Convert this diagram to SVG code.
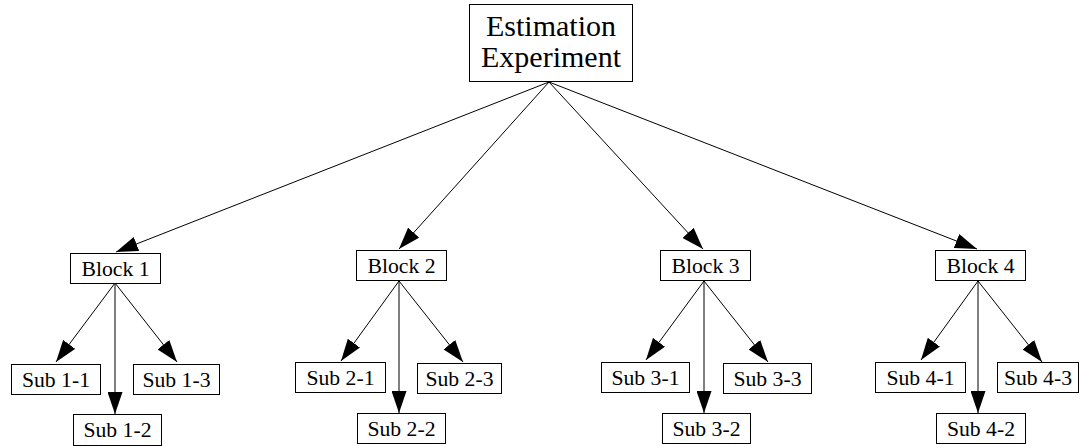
<svg xmlns="http://www.w3.org/2000/svg" width="1080" height="446" viewBox="0 0 1080 446">
  <style>
    .box { fill: #ffffff; stroke: #000000; stroke-width: 1; }
    text { font-family: "Liberation Serif", "Times New Roman", serif; font-size: 21.7px; fill: #000000; text-anchor: middle; }
    .root { font-size: 30px; }
    .edge { stroke: #000000; stroke-width: 1; fill: none; marker-end: url(#arrow); }
  </style>
  <defs>
    <marker id="arrow" markerUnits="userSpaceOnUse" markerWidth="22" markerHeight="15" refX="22" refY="7.5" orient="auto">
      <path d="M0,0 L22,7.5 L0,15 Z" fill="#000000"/>
    </marker>
  </defs>
  <rect width="1080" height="446" fill="#ffffff"/>

  <g id="connectors">
    <!-- root to blocks -->
    <line class="edge" x1="549" y1="82" x2="116" y2="252"/>
    <line class="edge" x1="549" y1="82" x2="399" y2="249"/>
    <line class="edge" x1="549" y1="82" x2="703" y2="249"/>
    <line class="edge" x1="549" y1="82" x2="977" y2="249"/>
    <!-- block 1 -->
    <line class="edge" x1="115" y1="283" x2="56" y2="362"/>
    <line class="edge" x1="115" y1="283" x2="115" y2="414"/>
    <line class="edge" x1="115" y1="283" x2="177" y2="362"/>
    <!-- block 2 -->
    <line class="edge" x1="399" y1="281" x2="341" y2="361"/>
    <line class="edge" x1="399" y1="281" x2="399" y2="413"/>
    <line class="edge" x1="399" y1="281" x2="463" y2="362"/>
    <!-- block 3 -->
    <line class="edge" x1="704" y1="281" x2="646" y2="360"/>
    <line class="edge" x1="704" y1="281" x2="704" y2="413"/>
    <line class="edge" x1="704" y1="281" x2="768" y2="362"/>
    <!-- block 4 -->
    <line class="edge" x1="978" y1="281" x2="921" y2="360"/>
    <line class="edge" x1="978" y1="281" x2="978" y2="413"/>
    <line class="edge" x1="978" y1="281" x2="1042" y2="362"/>
  </g>

  <g id="root">
    <rect class="box" x="469.5" y="4.5" width="163" height="77"/>
    <text class="root" x="551" y="36">Estimation</text>
    <text class="root" x="551" y="67">Experiment</text>
  </g>

  <g id="block1"><rect class="box" x="70.5" y="253.5" width="90" height="30"/><text x="115.5" y="276">Block 1</text></g>
  <g id="block2"><rect class="box" x="356.5" y="250.5" width="90" height="30"/><text x="401.5" y="273">Block 2</text></g>
  <g id="block3"><rect class="box" x="660.5" y="250.5" width="90" height="30"/><text x="705.5" y="273">Block 3</text></g>
  <g id="block4"><rect class="box" x="935.5" y="250.5" width="90" height="30"/><text x="980.5" y="273">Block 4</text></g>

  <g id="sub1-1"><rect class="box" x="11.5" y="364.5" width="89" height="30"/><text x="56" y="387">Sub 1-1</text></g>
  <g id="sub1-2"><rect class="box" x="73.5" y="414.5" width="88" height="31"/><text x="117.5" y="437">Sub 1-2</text></g>
  <g id="sub1-3"><rect class="box" x="133.5" y="364.5" width="86" height="30"/><text x="176.5" y="387">Sub 1-3</text></g>

  <g id="sub2-1"><rect class="box" x="295.5" y="362.5" width="90" height="30"/><text x="340.5" y="385">Sub 2-1</text></g>
  <g id="sub2-2"><rect class="box" x="357.5" y="413.5" width="88" height="30"/><text x="401.5" y="436">Sub 2-2</text></g>
  <g id="sub2-3"><rect class="box" x="417.5" y="363.5" width="84" height="30"/><text x="459.5" y="386">Sub 2-3</text></g>

  <g id="sub3-1"><rect class="box" x="601.5" y="362.5" width="88" height="30"/><text x="645.5" y="385">Sub 3-1</text></g>
  <g id="sub3-2"><rect class="box" x="662.5" y="413.5" width="88" height="30"/><text x="706.5" y="436">Sub 3-2</text></g>
  <g id="sub3-3"><rect class="box" x="723.5" y="363.5" width="88" height="30"/><text x="767.5" y="386">Sub 3-3</text></g>

  <g id="sub4-1"><rect class="box" x="875.5" y="362.5" width="90" height="30"/><text x="920.5" y="385">Sub 4-1</text></g>
  <g id="sub4-2"><rect class="box" x="936.5" y="413.5" width="89" height="30"/><text x="981" y="436">Sub 4-2</text></g>
  <g id="sub4-3"><rect class="box" x="997.5" y="362.5" width="81" height="30"/><text x="1038" y="385">Sub 4-3</text></g>
</svg>
